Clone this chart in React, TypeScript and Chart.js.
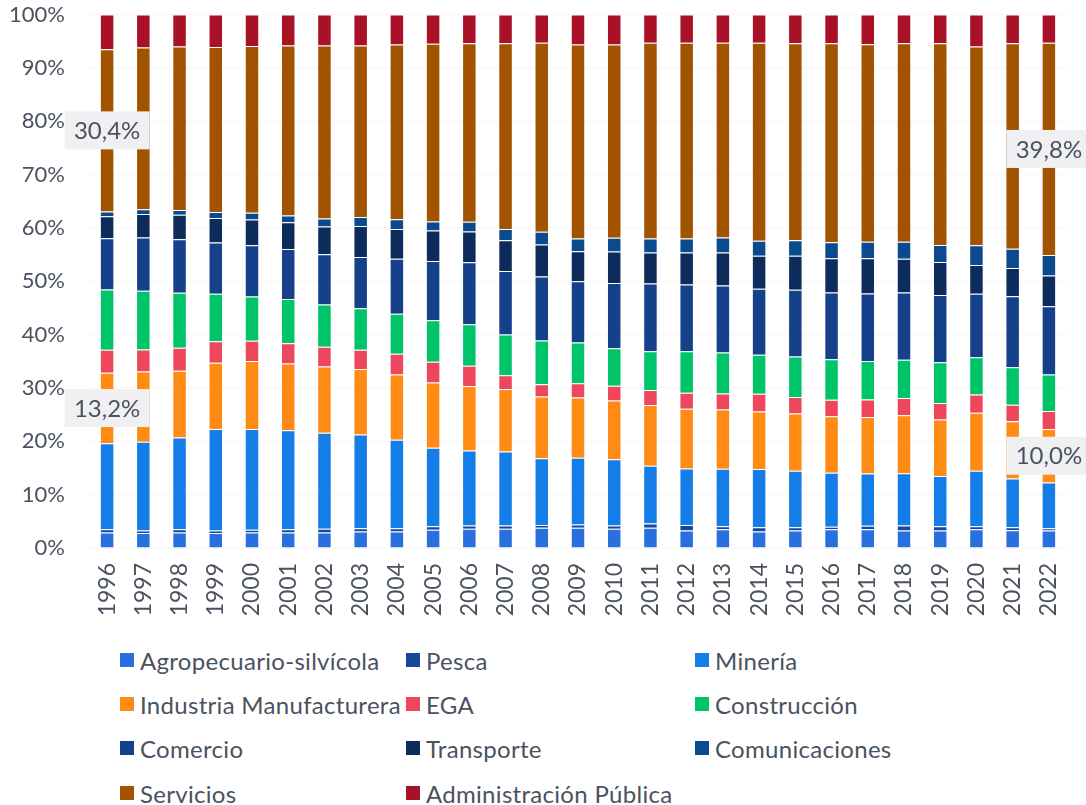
import { useEffect, useRef } from "react";
import { Chart, registerables } from "chart.js";

Chart.register(...registerables);

const years = ["1996","1997","1998","1999","2000","2001","2002","2003","2004","2005","2006","2007","2008","2009","2010","2011","2012","2013","2014","2015","2016","2017","2018","2019","2020","2021","2022"];

const agro = [2.9, 2.8, 2.9, 2.8, 2.9, 2.9, 2.9, 3.1, 3.1, 3.4, 3.6, 3.6, 3.8, 3.8, 3.6, 3.8, 3.3, 3.5, 3.1, 3.3, 3.5, 3.5, 3.3, 3.3, 3.5, 3.3, 3.3];
const pesca = [0.6, 0.5, 0.6, 0.5, 0.5, 0.6, 0.7, 0.6, 0.6, 0.7, 0.6, 0.6, 0.5, 0.6, 0.6, 0.8, 1.0, 0.6, 0.8, 0.6, 0.5, 0.7, 0.9, 0.8, 0.6, 0.6, 0.4];
const mineria = [16.1, 16.6, 17.2, 19.0, 18.9, 18.6, 18.0, 17.6, 16.6, 14.7, 14.1, 13.9, 12.5, 12.5, 12.4, 10.8, 10.6, 10.8, 10.9, 10.6, 10.1, 9.8, 9.8, 9.4, 10.4, 9.1, 8.6];
const industria = [13.2, 13.2, 12.5, 12.4, 12.7, 12.5, 12.4, 12.3, 12.2, 12.2, 12.1, 11.7, 11.6, 11.3, 11.0, 11.4, 11.2, 11.1, 10.8, 10.7, 10.6, 10.6, 10.9, 10.6, 10.9, 10.7, 10.0];
const ega = [4.3, 4.1, 4.3, 4.0, 3.8, 3.8, 3.7, 3.6, 3.9, 3.9, 3.8, 2.6, 2.3, 2.7, 2.8, 2.8, 3.0, 3.0, 3.3, 3.1, 3.1, 3.3, 3.2, 3.1, 3.4, 3.1, 3.4];
const construccion = [11.3, 11.0, 10.3, 8.9, 8.3, 8.3, 7.9, 7.8, 7.5, 7.8, 7.8, 7.6, 8.2, 7.6, 7.0, 7.3, 7.8, 7.7, 7.3, 7.6, 7.6, 7.2, 7.2, 7.6, 7.0, 7.0, 6.8];
const comercio = [9.6, 10.0, 10.0, 9.6, 9.6, 9.4, 9.4, 9.6, 10.3, 11.1, 11.6, 11.9, 12.0, 11.5, 12.2, 12.7, 12.5, 12.6, 12.4, 12.5, 12.5, 12.7, 12.6, 12.6, 11.9, 13.3, 12.8];
const transporte = [4.1, 4.4, 4.6, 4.6, 4.8, 5.0, 5.2, 5.8, 5.6, 5.7, 5.8, 5.8, 6.0, 5.6, 5.9, 5.8, 6.0, 6.2, 6.2, 6.4, 6.4, 6.6, 6.3, 6.2, 5.4, 5.3, 5.8];
const comunicaciones = [0.9, 0.9, 0.9, 1.1, 1.3, 1.3, 1.5, 1.7, 1.8, 1.7, 1.8, 2.1, 2.4, 2.4, 2.6, 2.6, 2.6, 2.8, 2.8, 2.9, 3.0, 3.1, 3.2, 3.2, 3.7, 3.6, 3.8];
const servicios = [30.4, 30.3, 30.6, 30.9, 31.2, 31.9, 32.4, 32.2, 32.8, 33.3, 33.5, 34.8, 35.4, 36.4, 36.2, 36.7, 36.7, 36.6, 37.1, 36.9, 37.3, 37.1, 37.2, 37.8, 37.3, 38.4, 39.8];
const administracion = [6.5, 6.2, 6.0, 6.1, 5.9, 5.8, 5.8, 5.8, 5.6, 5.5, 5.4, 5.4, 5.3, 5.6, 5.6, 5.3, 5.3, 5.3, 5.3, 5.4, 5.4, 5.6, 5.4, 5.4, 6.0, 5.4, 5.3];

const seriesNames = ["Agropecuario-silvícola", "Pesca", "Minería", "Industria Manufacturera", "EGA", "Construcción", "Comercio", "Transporte", "Comunicaciones", "Servicios", "Administración Pública"];
const seriesValues = [agro, pesca, mineria, industria, ega, construccion, comercio, transporte, comunicaciones, servicios, administracion];
const seriesColors = ["#2870de", "#17479a", "#147de8", "#ff8a14", "#ee475d", "#00c469", "#14418a", "#0d2b5b", "#0a4a8e", "#a15300", "#a91126"];

const yTickLabels = ["0%", "10%", "20%", "30%", "40%", "50%", "60%", "70%", "80%", "90%", "100%"];

const calloutSeries = [3, 9, 3, 9];
const calloutIndex = [0, 0, 26, 26];
const calloutText = ["13,2%", "30,4%", "10,0%", "39,8%"];

const W = 1086;
const H = 640;
const TEXT = "#4a5260";
const FONT = "Lato, 'Noto Sans', sans-serif";

const calloutPlugin = {
  id: "callouts",
  afterDatasetsDraw(chart: any) {
    const ctx = chart.ctx;
    ctx.save();
    ctx.font = `24px ${FONT}`;
    ctx.textAlign = "center";
    ctx.textBaseline = "middle";
    for (let k = 0; k < calloutText.length; k++) {
      const el = chart.getDatasetMeta(calloutSeries[k]).data[calloutIndex[k]];
      if (!el) continue;
      const p = el.getProps(["x", "y", "base"], true);
      const cy = (p.y + p.base) / 2;
      const bw = 85, bh = 38;
      ctx.fillStyle = "#f0f0f3";
      ctx.fillRect(p.x - bw / 2, cy - bh / 2, bw, bh);
      ctx.fillStyle = TEXT;
      ctx.fillText(calloutText[k], p.x, cy + 1);
    }
    ctx.restore();
  },
};

export default function App() {
  const ref = useRef<HTMLCanvasElement | null>(null);

  useEffect(() => {
    if (!ref.current) return;
    const totals = years.map((_, i) => seriesValues.reduce((s, arr) => s + arr[i], 0));
    const chart = new Chart(ref.current, {
      type: "bar",
      data: {
        labels: years,
        datasets: seriesNames.map((name, d) => ({
          label: name,
          data: seriesValues[d].map((v, i) => (v / totals[i]) * 100),
          backgroundColor: seriesColors[d],
          borderColor: "rgba(255,255,255,0.3)",
          borderWidth: 1,
          categoryPercentage: 1,
          barPercentage: 0.4,
        })),
      },
      options: {
        animation: false,
        responsive: false,
        devicePixelRatio: 1,
        layout: { padding: { top: 14.5, right: 19, left: 0, bottom: 0 } },
        plugins: {
          legend: { display: false },
          tooltip: { enabled: false },
        },
        scales: {
          x: {
            stacked: true,
            grid: { display: false, drawTicks: false },
            border: { display: false },
            ticks: {
              color: TEXT,
              font: { family: FONT, size: 23 },
              minRotation: 90,
              maxRotation: 90,
              padding: 15,
              autoSkip: false,
            },
            afterFit: (scale: any) => {
              scale.height = H - 548;
              scale.paddingLeft = 0;
              scale.paddingRight = 0;
            },
          },
          y: {
            stacked: true,
            min: 0,
            max: 100,
            grid: { color: "rgba(0,0,0,0.035)", drawTicks: false },
            border: { display: false },
            ticks: {
              stepSize: 10,
              color: TEXT,
              font: { family: FONT, size: 22 },
              padding: 24,
              callback: (v: any) => yTickLabels[Math.round(Number(v) / 10)],
            },
            afterFit: (scale: any) => {
              scale.width = 89;
              scale.paddingTop = 0;
              scale.paddingBottom = 0;
            },
          },
        },
      },
      plugins: [calloutPlugin],
    });
    return () => chart.destroy();
  }, []);

  const colLeft = [120, 406, 695];
  const rowCenter = [660, 704, 748, 793];

  return (
    <div style={{ position: "absolute", left: 0, top: 0, width: W, height: 805, background: "#fff", fontFamily: FONT }}>
      <canvas ref={ref} width={W} height={H} style={{ position: "absolute", left: 0, top: 0, width: W, height: H }} />
      {seriesNames.map((name, i) => (
        <div
          key={name}
          style={{
            position: "absolute",
            left: colLeft[i % 3],
            top: rowCenter[Math.floor(i / 3)] - 14,
            height: 28,
            display: "flex",
            alignItems: "center",
            whiteSpace: "nowrap",
            color: TEXT,
            fontSize: 24,
            letterSpacing: "0.3px",
          }}
        >
          <span style={{ display: "inline-block", width: 14, height: 14, background: seriesColors[i], marginRight: 6 }} />
          <span>{name}</span>
        </div>
      ))}
    </div>
  );
}
